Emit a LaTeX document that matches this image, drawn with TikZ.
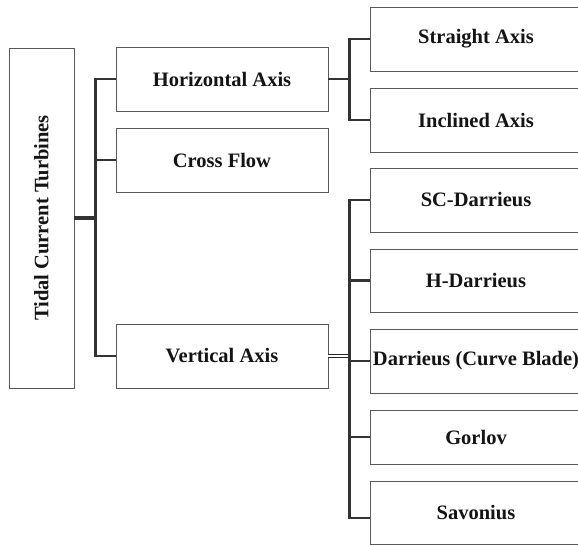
\documentclass[tikz,border=0pt]{standalone}
\usepackage{fontspec}
\setmainfont{Liberation Serif}
\tikzset{
  box/.style={draw=black!65, line width=0.9pt, fill=white, text=black!92,
    font=\fontsize{20.5}{24}\selectfont\bfseries, inner sep=0pt},
  conn/.style={draw=black!80, line width=2.2pt},
  trunk/.style={draw=black!80, line width=4pt},
  twin/.style={draw=black!85, line width=1.6pt, double=white, double distance=1.5pt}
}
\begin{document}
\begin{tikzpicture}[x=1pt,y=-1pt]
\useasboundingbox (0,0) rectangle (578,545);

\node[box, minimum width=65, minimum height=340] (tct) at (41.5,218) {\rotatebox{90}{Tidal Current Turbines}};

\node[box, minimum width=212, minimum height=64] (hax) at (222,79) {Horizontal Axis};
\node[box, minimum width=212, minimum height=64] (cfl) at (222,160) {Cross Flow};
\node[box, minimum width=212, minimum height=64] (vax) at (222,356) {Vertical Axis};

\node[box, minimum width=212, minimum height=64] (sax) at (476,39) {Straight Axis};
\node[box, minimum width=212, minimum height=64] (iax) at (476,120) {Inclined Axis};

\node[box, minimum width=212, minimum height=64] (scd) at (476,200) {SC-Darrieus};
\node[box, minimum width=212, minimum height=63] (hdr) at (476,280.5) {H-Darrieus};
\node[box, minimum width=212, minimum height=64] (dcb) at (476,361) {Darrieus (Curve Blade)};
\node[box, minimum width=212, minimum height=54] (gor) at (476,437) {Gorlov};
\node[box, minimum width=212, minimum height=63] (sav) at (476,513) {Savonius};

\coordinate (lsp) at ([xshift=22pt]tct.east);
\draw[trunk] (tct.east) -- (lsp);
\draw[conn] (hax.west) -- ++(-20,0) |- (vax.west);
\draw[conn] (cfl.west) -- ++(-20,0);

\draw[conn] (hax.east) -- ++(22,0);
\draw[conn] (sax.west) -- ++(-20,0) |- (iax.west);

\draw[twin] (vax.east) -- ++(22,0);
\draw[conn] (scd.west) -- ++(-20,0) |- ([yshift=-5pt]sav.west);
\draw[conn] (hdr.west) -- ++(-20,0);
\draw[conn] (dcb.west) -- ++(-20,0);
\draw[conn] (gor.west) -- ++(-20,0);
\end{tikzpicture}
\end{document}
